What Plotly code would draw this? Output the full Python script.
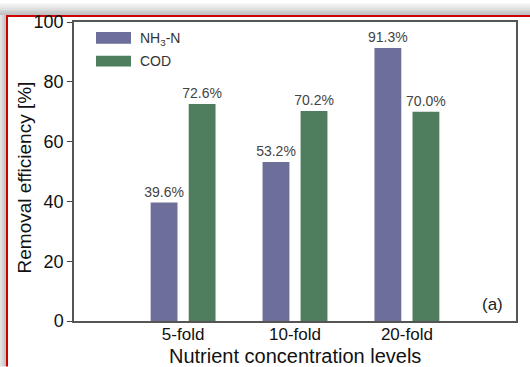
import plotly.graph_objects as go

# Data
categories = ["5-fold", "10-fold", "20-fold"]
nh3_n = [39.6, 53.2, 91.3]
cod = [72.6, 70.2, 70.0]
y_ticks = [0, 20, 40, 60, 80, 100]

W, H = 530, 367
L, R, T, B = 74, 516, 19, 321  # plot-area pixel box

FONT = "Liberation Sans, Arial, sans-serif"
PURPLE = "#6D6E9A"
GREEN = "#4F7E5E"


def px(x):
    return (x - L) / (R - L)


def py(y):
    return (B - y) / (B - T)


xpos = list(range(len(categories)))

fig = go.Figure()
for vals, off, col in ((nh3_n, -0.29, PURPLE), (cod, 0.05, GREEN)):
    fig.add_trace(go.Bar(
        x=xpos, y=vals, width=0.24, offset=off,
        marker=dict(color=col, line=dict(width=0)),
        text=[f"{v:.1f}%" for v in vals], textposition="outside",
        constraintext="none",
        textfont=dict(family=FONT, size=14, color="#444444"),
        cliponaxis=False, showlegend=False,
    ))

shapes = []
# frame shadow (top and left), built from thin gray bands
top_grays = ["#f4f4f4", "#eaeaea", "#e0e0e0", "#d6d6d6", "#cccccc", "#c2c2c2"]
for i, c in enumerate(top_grays):
    shapes.append(dict(type="rect", xref="paper", yref="paper",
                       x0=px(0), x1=px(W), y0=py(2 * i), y1=py(2 * i + 2),
                       fillcolor=c, line=dict(width=0), layer="below"))
left_grays = ["#e2e2e2", "#d4d4d4", "#c6c6c6"]
for i, c in enumerate(left_grays):
    shapes.append(dict(type="rect", xref="paper", yref="paper",
                       x0=px(2 * i), x1=px(2 * i + 2), y0=py(12), y1=py(H),
                       fillcolor=c, line=dict(width=0), layer="below"))
# red frame lines
shapes.append(dict(type="rect", xref="paper", yref="paper",
                   x0=px(6), x1=px(W), y0=py(12), y1=py(14),
                   fillcolor="#cc0000", line=dict(width=0), layer="below"))
shapes.append(dict(type="rect", xref="paper", yref="paper",
                   x0=px(6), x1=px(8), y0=py(12), y1=py(H),
                   fillcolor="#cc0000", line=dict(width=0), layer="below"))
# legend swatches
shapes.append(dict(type="rect", xref="paper", yref="paper",
                   x0=px(96), x1=px(131), y0=py(29), y1=py(41),
                   fillcolor=PURPLE, line=dict(width=0)))
shapes.append(dict(type="rect", xref="paper", yref="paper",
                   x0=px(96), x1=px(131), y0=py(53), y1=py(64),
                   fillcolor=GREEN, line=dict(width=0)))

annotations = [
    dict(text="NH<sub>3</sub>-N", xref="paper", yref="paper", x=px(138), y=py(36),
         xanchor="left", yanchor="middle", showarrow=False,
         font=dict(family=FONT, size=14, color="#333333")),
    dict(text="COD", xref="paper", yref="paper", x=px(138), y=py(58),
         xanchor="left", yanchor="middle", showarrow=False,
         font=dict(family=FONT, size=14, color="#333333")),
    dict(text="(a)", xref="paper", yref="paper", x=px(492), y=py(304),
         xanchor="center", yanchor="middle", showarrow=False,
         font=dict(family=FONT, size=17, color="#222222")),
    dict(text="Nutrient concentration levels", xref="paper", yref="paper",
         x=0.5, y=py(356), xanchor="center", yanchor="middle", showarrow=False,
         font=dict(family=FONT, size=20, color="#111111")),
    dict(text="Removal efficiency [%]", xref="paper", yref="paper",
         x=px(24), y=py(176), xanchor="center", yanchor="middle",
         textangle=-90, showarrow=False,
         font=dict(family=FONT, size=19, color="#111111")),
]

fig.update_layout(
    width=W, height=H,
    margin=dict(l=L, r=W - R, t=T, b=H - B, pad=0),
    paper_bgcolor="white", plot_bgcolor="white",
    barmode="overlay",
    shapes=shapes, annotations=annotations,
    font=dict(family=FONT, color="#111111"),
    xaxis=dict(
        range=[-0.975, 2.975], tickvals=xpos, ticktext=categories,
        ticks="", showgrid=False, zeroline=False, ticklabelstandoff=-3,
        showline=True, mirror=True, linecolor="#555555", linewidth=1.5,
        tickfont=dict(family=FONT, size=17, color="#111111"),
        fixedrange=True,
    ),
    yaxis=dict(
        range=[0, 100], tickvals=y_ticks, ticks="outside", ticklen=5,
        tickcolor="#444444", tickwidth=1, showgrid=False, zeroline=False,
        showline=True, mirror=True, linecolor="#555555", linewidth=1.5,
        tickfont=dict(family=FONT, size=18, color="#111111"),
        fixedrange=True,
    ),
)

fig.write_html("out.html")
